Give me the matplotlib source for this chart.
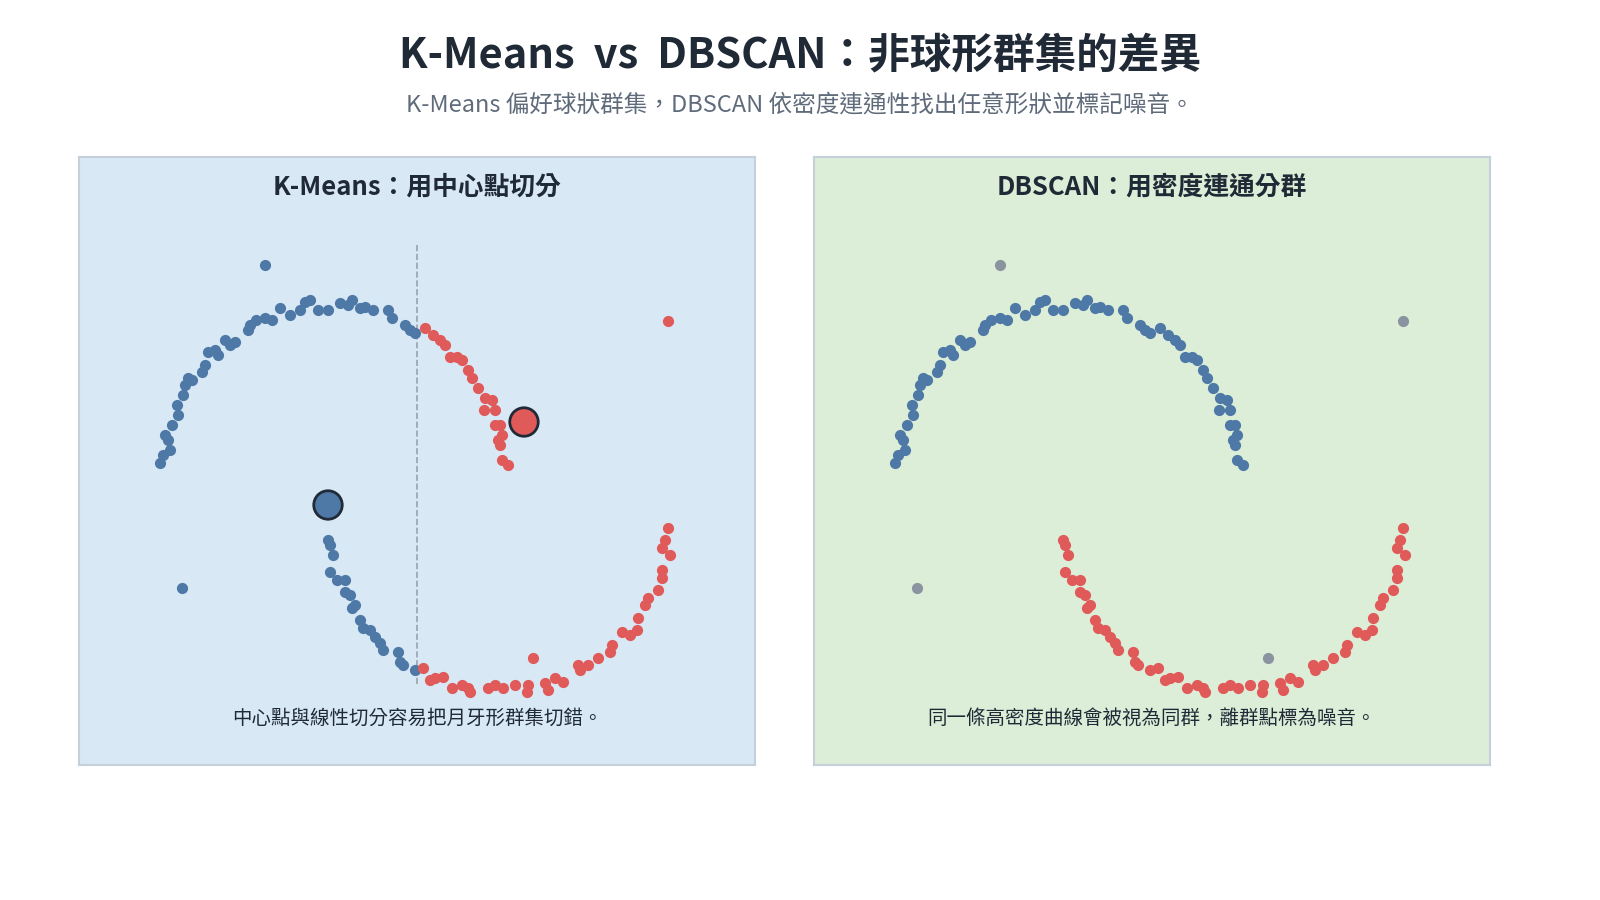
import matplotlib
matplotlib.use("Agg")
import matplotlib.pyplot as plt
import numpy as np

plt.rcParams['font.family'] = ['Noto Sans CJK TC', 'DejaVu Sans']

# Feature coordinates (in panel units; y grows downward)
upper_x = [160,163,170,165,168,172,178,177,183,185,188,192,202,205,208,215,218,225,230,235,248,250,256,265,272,280,290,300,305,310,318,328,340,348,352,360,365,373,388,392,405,410,415,
           425,433,440,445,450,457,462,468,472,478,485,492,484,495,495,500,502,498,500,502,508]
upper_y = [463,455,450,435,440,425,415,405,395,385,378,380,372,365,352,350,355,340,345,342,330,325,320,318,320,308,315,310,302,300,310,310,303,305,300,308,307,310,310,318,325,330,333,
           328,335,340,345,357,357,360,370,378,388,398,400,410,410,425,425,435,440,445,460,465]
lower_x = [328,330,333,330,337,345,345,350,355,352,360,363,370,375,380,383,398,400,403,415,
           423,430,435,443,452,462,470,468,488,495,503,515,527,528,545,548,555,563,578,580,588,598,610,612,622,630,637,638,645,648,658,662,662,670,662,665,668]
lower_y = [540,545,555,572,580,580,592,595,605,608,620,628,630,637,643,650,652,662,665,670,
           668,680,678,677,688,685,692,688,688,685,688,685,692,685,683,690,678,682,665,670,665,658,652,645,632,635,630,618,605,598,590,578,570,555,548,540,528]
noise_x = [265,182,668,533]
noise_y = [265,588,321,658]
noise_km = [0,0,1,1]
centroid_x = [328,524]
centroid_y = [505,422]
split_x = 417

BLUE, RED, GREY = '#4e79a7', '#e05a5a', '#8a94a0'

fig = plt.figure(figsize=(16,9), dpi=100)
fig.text(0.5, 1-55/900, 'K-Means  vs  DBSCAN：非球形群集的差異', ha='center', va='center',
         fontsize=30, fontweight='bold', color='#1f2a36')
fig.text(0.5, 1-105/900, 'K-Means 偏好球狀群集，DBSCAN 依密度連通性找出任意形狀並標記噪音。',
         ha='center', va='center', fontsize=17, color='#5f6b7a')

def panel(left_px, face, title, caption):
    ax = fig.add_axes([left_px/1600, 1-765/900, 676/1600, 608/900])
    ax.set_xlim(79, 755); ax.set_ylim(765, 157)
    ax.set_facecolor(face)
    ax.set_xticks([]); ax.set_yticks([])
    for s in ax.spines.values():
        s.set_color('#c5d0da'); s.set_linewidth(1.5)
    ax.text(417, 187, title, ha='center', va='center', fontsize=18.5, fontweight='bold', color='#1f2a36')
    ax.text(417, 718, caption, ha='center', va='center', fontsize=14, color='#1f2a36')
    return ax

ax1 = panel(79, '#d9e8f5', 'K-Means：用中心點切分', '中心點與線性切分容易把月牙形群集切錯。')
ax2 = panel(814, '#ddeed8', 'DBSCAN：用密度連通分群', '同一條高密度曲線會被視為同群，離群點標為噪音。')

ux, uy = np.array(upper_x), np.array(upper_y)
lx, ly = np.array(lower_x), np.array(lower_y)
ax_all = np.concatenate([ux, lx]); ay_all = np.concatenate([uy, ly])
km = ax_all > split_x
ax1.plot([split_x, split_x], [245, 685], ls='--', color='#9aa3ad', lw=1.2, zorder=1)
ax1.scatter(ax_all[~km], ay_all[~km], s=65, color=BLUE, zorder=2, lw=0)
ax1.scatter(ax_all[km], ay_all[km], s=65, color=RED, zorder=2, lw=0)
nk = np.array(noise_km)
nx, ny = np.array(noise_x), np.array(noise_y)
ax1.scatter(nx[nk==0], ny[nk==0], s=65, color=BLUE, zorder=2, lw=0)
ax1.scatter(nx[nk==1], ny[nk==1], s=65, color=RED, zorder=2, lw=0)
ax1.scatter(centroid_x, centroid_y, s=420, color=[BLUE, RED], edgecolor='#1f2a36', lw=2, zorder=3)

ax2.scatter(ux, uy, s=65, color=BLUE, lw=0)
ax2.scatter(lx, ly, s=65, color=RED, lw=0)
ax2.scatter(nx, ny, s=65, color=GREY, lw=0)

fig.savefig('out.png', dpi=100, facecolor='white')
